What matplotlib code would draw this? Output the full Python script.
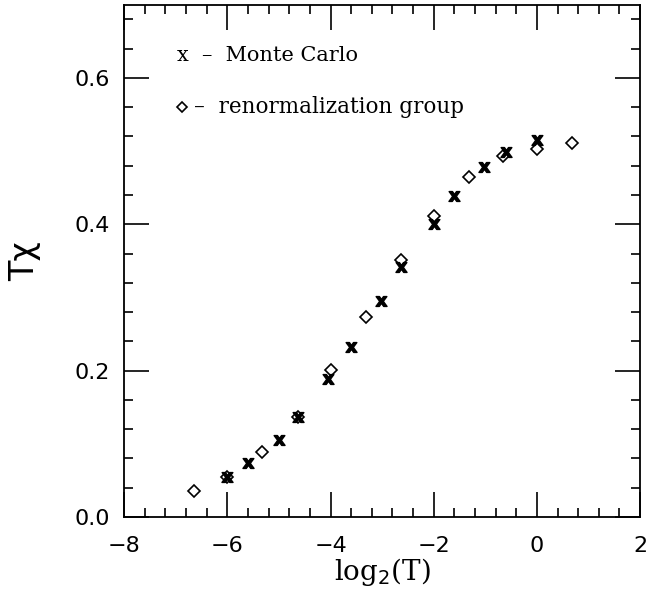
import matplotlib
matplotlib.use("Agg")
import matplotlib.pyplot as plt
from matplotlib.ticker import MultipleLocator

# renormalization group (diamonds)
rg_x = [-6.64, -6.0, -5.32, -4.64, -4.0, -3.32, -2.64, -2.0, -1.32, -0.66, 0.0, 0.68]
rg_y = [0.036, 0.055, 0.089, 0.136, 0.201, 0.273, 0.351, 0.412, 0.464, 0.493, 0.503, 0.511]

# Monte Carlo (x)
mc_x = [-6.0, -5.6, -5.0, -4.64, -4.04, -3.6, -3.03, -2.64, -2.0, -1.61, -1.03, -0.6, 0.0]
mc_y = [0.055, 0.074, 0.105, 0.136, 0.188, 0.233, 0.295, 0.341, 0.401, 0.438, 0.478, 0.499, 0.515]

fig = plt.figure(figsize=(6.64, 5.97), dpi=100)
ax = fig.add_axes([0.187, 0.134, 0.777, 0.858])

ax.plot(mc_x, mc_y, ls='none', marker=r'$\mathbf{x}$', ms=8, color='black')
ax.plot(rg_x, rg_y, ls='none', marker='D', ms=6, mfc='none', mec='black', mew=1.2)

ax.set_xlim(-8, 2)
ax.set_ylim(0, 0.7)
ax.xaxis.set_minor_locator(MultipleLocator(0.4))
ax.yaxis.set_minor_locator(MultipleLocator(0.04))
ax.set_yticks([0.0, 0.2, 0.4, 0.6])
ax.set_yticklabels(['0.0', '0.2', '0.4', '0.6'])
ax.set_xticks([-8, -6, -4, -2, 0, 2])
ax.set_xticklabels(['\u22128', '\u22126', '\u22124', '\u22122', '0', '2'])

ax.tick_params(which='both', direction='in', top=True, right=True, width=1.2)
ax.tick_params(which='major', length=18, labelsize=16)
ax.tick_params(axis='x', which='major', pad=14)
ax.tick_params(axis='y', which='major', pad=10)
ax.tick_params(which='minor', length=6.5)
for s in ax.spines.values():
    s.set_linewidth(1.3)

ax.set_xlabel(r'log$_2$(T)', family='DejaVu Serif', fontsize=20, labelpad=0)
ax.set_ylabel('T\u03c7', fontsize=24, labelpad=24)

ax.text(-6.97, 0.630, 'x  \u2013  Monte Carlo', family='DejaVu Serif', fontsize=15, va='center')
ax.plot([-6.88], [0.560], ls='none', marker='D', ms=5, mfc='none', mec='black', mew=1.2)
ax.text(-6.65, 0.560, '\u2013  renormalization group', family='DejaVu Serif', fontsize=15.5, va='center')

fig.savefig('out.png', dpi=100)
